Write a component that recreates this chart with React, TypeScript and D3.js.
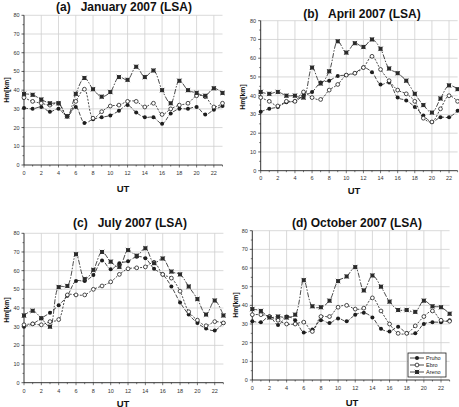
import React from "react";
import * as d3 from "d3";

const hours = d3.range(0, 24);
const yTicks = [0, 10, 20, 30, 40, 50, 60, 70, 80];
const xTicks = [0, 2, 4, 6, 8, 10, 12, 14, 16, 18, 20, 22];
const seriesNames = ["Pruho", "Ebro", "Areno"];

const janPruho = [30.5, 30, 31, 28.5, 30, 26, 31, 22.5, 24.5, 25.5, 26.5, 29, 32, 28, 25.5, 25.5, 22, 27.5, 30, 30, 31, 27, 29.5, 31.5];
const janEbro = [36, 34, 33, 32, 33, 26, 34, 40.5, 25, 28.5, 31.5, 32, 34, 34, 31, 33, 27, 30, 32, 33, 37, 36.5, 31, 33];
const janAreno = [38, 37.5, 35, 33, 33, 26, 38, 46.5, 40.5, 36.5, 39, 47, 45.5, 52.5, 47, 50.5, 40, 33, 45, 40, 38.5, 37, 41, 38.5];

const aprPruho = [31.5, 33, 34, 36.5, 37, 40, 42, 47, 48, 50.5, 51, 52, 55, 52.5, 46, 47, 39, 37.5, 34, 29.5, 26, 28.5, 28.5, 32];
const aprEbro = [39, 37, 34.5, 37, 37, 42, 39, 38, 43, 46, 51, 52, 55, 61, 54, 48, 43, 41, 37, 28, 26, 33, 40, 37];
const aprAreno = [42, 41, 42, 40, 40, 39, 55, 46.5, 53, 69, 63, 68, 66, 70, 65, 54.5, 52, 48, 41, 35, 31, 38.5, 45.5, 43.5];

const julPruho = [30, 31.5, 34.5, 37.5, 41.5, 46.5, 54.5, 54.5, 57.7, 65.5, 60.7, 64, 65, 67.5, 66.6, 61, 58, 51.5, 43, 36.5, 32, 29, 28, 32];
const julEbro = [31, 31.5, 31, 32.7, 33.8, 47, 47, 47, 50, 51.8, 54, 58, 61, 61.5, 62, 64.5, 58, 56, 49, 38, 33.5, 30.5, 32.7, 32];
const julAreno = [36, 38.5, 34.5, 30, 51.2, 51.8, 68.8, 55.5, 60.4, 70, 64.8, 62, 71, 68, 72, 64, 66.5, 59.5, 58, 51.5, 44.8, 36.5, 44, 36];

const octPruho = [31.5, 31, 34, 29.5, 34, 32, 25.5, 27, 32, 30.5, 33, 31.5, 35, 36, 33.5, 27.5, 26, 28.5, 25, 25, 30, 31, 31, 32];
const octEbro = [35, 35, 34, 32, 30, 30, 31, 26, 34, 34, 39, 40, 38, 38.5, 44, 37, 30, 25, 25, 29, 34, 37, 32, 31.5];
const octAreno = [38, 37, 33.5, 34, 33.5, 35, 53.5, 39.5, 39, 42.5, 53, 55.5, 60.5, 48, 56, 50, 42, 37.5, 37.5, 36.5, 42.5, 39.5, 39, 35.5];

const panelTitles = ["(a)   January 2007 (LSA)", "(b)   April 2007 (LSA)", "(c)   July 2007 (LSA)", "(d) October 2007 (LSA)"];
const panelData = [
  [janPruho, janEbro, janAreno],
  [aprPruho, aprEbro, aprAreno],
  [julPruho, julEbro, julAreno],
  [octPruho, octEbro, octAreno],
];

const layouts = [
  { x0: 24, x1: 222.5, yTop: 15.3, yBot: 165, tx: 124, ty: 11.3, lx: 6, ly: 90, ux: 123, uy: 191.5, tickY: 174.5 },
  { x0: 260.7, x1: 457.6, yTop: 20.7, yBot: 170.7, tx: 362, ty: 17.5, lx: 242, ly: 97, ux: 354, uy: 193.5, tickY: 180.3 },
  { x0: 24, x1: 223.4, yTop: 233.3, yBot: 382.7, tx: 130, ty: 227.3, lx: 6, ly: 310, ux: 123, uy: 406.5, tickY: 393 },
  { x0: 252.3, x1: 449.6, yTop: 230.7, yBot: 380, tx: 357, ty: 227.3, lx: 235, ly: 305, ux: 352, uy: 405.5, tickY: 390 },
];

const FONT = "'Liberation Sans', Arial, sans-serif";
const dashes = ["4,1.6", "2,1.4", "5,1.5,1.5,1.5"];
const INK = "#1e1e1e";

function Marker({ kind, x, y }: { kind: number; x: number; y: number }) {
  if (kind === 0) return <circle cx={x} cy={y} r={2} fill={INK} />;
  if (kind === 1) return <circle cx={x} cy={y} r={1.9} fill="#fff" stroke={INK} strokeWidth={0.8} />;
  return (
    <g>
      <rect x={x - 2} y={y - 2} width={4} height={4} fill="#333" />
      <path d={`M${x - 2.3},${y - 2.3}L${x + 2.3},${y + 2.3}M${x + 2.3},${y - 2.3}L${x - 2.3},${y + 2.3}`} stroke={INK} strokeWidth={0.6} />
    </g>
  );
}

function Panel({ idx }: { idx: number }) {
  const L = layouts[idx];
  const x = d3.scaleLinear().domain([0, 23]).range([L.x0, L.x1]);
  const y = d3.scaleLinear().domain([0, 80]).range([L.yBot, L.yTop]);
  const line = d3
    .line<number>()
    .x((_, i) => x(hours[i]))
    .y((v) => y(v))
    .curve(d3.curveCatmullRom.alpha(0.5));
  const minorY = d3.range(5, 80, 10);
  return (
    <g>
      {yTicks.filter((t) => t > 0).map((t) => (
        <line key={"gy" + t} x1={L.x0} x2={L.x1} y1={y(t)} y2={y(t)} stroke="#cfcfcf" strokeWidth={0.8} />
      ))}
      {xTicks.filter((t) => t > 0).map((t) => (
        <line key={"gx" + t} x1={x(t)} x2={x(t)} y1={L.yTop} y2={L.yBot} stroke="#cfcfcf" strokeWidth={0.8} />
      ))}
      <line x1={L.x0} x2={L.x0} y1={L.yTop} y2={L.yBot} stroke={INK} strokeWidth={0.9} />
      <line x1={L.x0} x2={L.x1} y1={L.yBot} y2={L.yBot} stroke={INK} strokeWidth={0.9} />
      {yTicks.map((t) => (
        <g key={"ty" + t}>
          <line x1={L.x0 - 2.5} x2={L.x0} y1={y(t)} y2={y(t)} stroke={INK} strokeWidth={0.7} />
          <text x={L.x0 - 4.5} y={y(t) + 2} fontSize={5.5} fontFamily={FONT} fill="#333" textAnchor="end">{t}</text>
        </g>
      ))}
      {minorY.map((t) => (
        <line key={"my" + t} x1={L.x0 - 1.5} x2={L.x0} y1={y(t)} y2={y(t)} stroke={INK} strokeWidth={0.6} />
      ))}
      {hours.map((h) => (
        <line key={"tx" + h} x1={x(h)} x2={x(h)} y1={L.yBot} y2={L.yBot + (h % 2 === 0 ? 2.5 : 1.5)} stroke={INK} strokeWidth={0.6} />
      ))}
      {xTicks.map((t) => (
        <text key={"lx" + t} x={x(t)} y={L.tickY} fontSize={5.5} fontFamily={FONT} fill="#333" textAnchor="middle">{t}</text>
      ))}
      {panelData[idx].map((s, si) => (
        <path key={"p" + si} d={line(s) || ""} fill="none" stroke={INK} strokeWidth={0.8} strokeDasharray={dashes[si]} />
      ))}
      {panelData[idx].map((s, si) => (
        <g key={"m" + si}>
          {s.map((v, i) => (
            <Marker key={i} kind={si} x={x(hours[i])} y={y(v)} />
          ))}
        </g>
      ))}
      <text x={L.tx} y={L.ty} fontSize={12} fontWeight="bold" fontFamily={FONT} textAnchor="middle" style={{ whiteSpace: "pre" }} fill="#111">
        {panelTitles[idx]}
      </text>
      <text transform={`translate(${L.lx},${L.ly}) rotate(-90)`} fontSize={6.8} fontWeight="bold" fontFamily={FONT} textAnchor="middle" dominantBaseline="central" fill="#111">
        Hm[km]
      </text>
      <text x={L.ux} y={L.uy} fontSize={9.5} fontWeight="bold" fontFamily={FONT} textAnchor="middle" fill="#111">UT</text>
    </g>
  );
}

function Legend() {
  const bx = 408, by = 353, bw = 38, bh = 24;
  return (
    <g>
      <rect x={bx} y={by} width={bw} height={bh} fill="#fff" stroke={INK} strokeWidth={0.8} />
      {seriesNames.map((n, i) => {
        const yy = by + 5 + i * 7;
        return (
          <g key={n}>
            <line x1={bx + 2} x2={bx + 16} y1={yy} y2={yy} stroke={INK} strokeWidth={0.8} />
            <Marker kind={i} x={bx + 9} y={yy} />
            <text x={bx + 18} y={yy + 2} fontSize={5.5} fontFamily={FONT} fill="#222">{n}</text>
          </g>
        );
      })}
    </g>
  );
}

export default function App() {
  return (
    <svg width={459} height={407} style={{ position: "absolute", left: 0, top: 0, background: "#fff" }}>
      <rect width={459} height={407} fill="#fff" />
      {[0, 1, 2, 3].map((i) => (
        <Panel key={i} idx={i} />
      ))}
      <Legend />
    </svg>
  );
}
